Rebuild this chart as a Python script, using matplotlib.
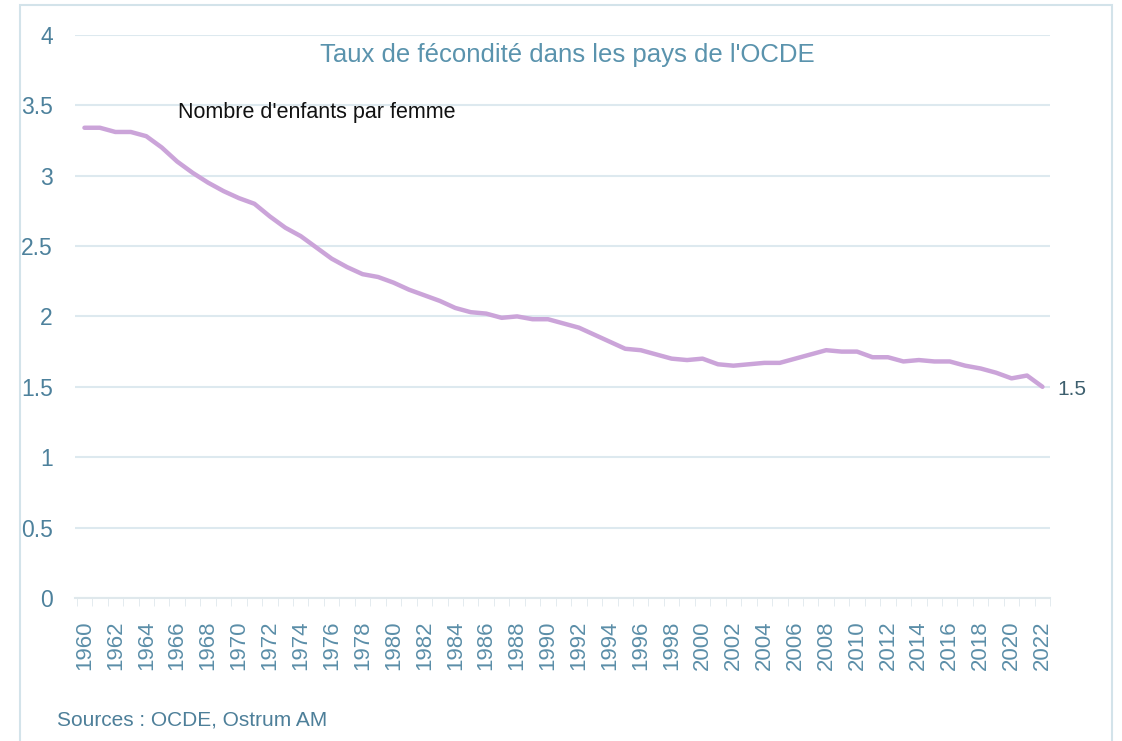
import numpy as np
import matplotlib.pyplot as plt
from matplotlib.patches import Rectangle

# fertility rate, OECD countries
years = list(range(1960, 2023))
taux = [3.34, 3.34, 3.31, 3.31, 3.28, 3.20, 3.10, 3.02, 2.95, 2.89,
        2.84, 2.80, 2.71, 2.63, 2.57, 2.49, 2.41, 2.35, 2.30, 2.28,
        2.24, 2.19, 2.15, 2.11, 2.06, 2.03, 2.02, 1.99, 2.00, 1.98,
        1.98, 1.95, 1.92, 1.87, 1.82, 1.77, 1.76, 1.73, 1.70, 1.69,
        1.70, 1.66, 1.65, 1.66, 1.67, 1.67, 1.70, 1.73, 1.76, 1.75,
        1.75, 1.71, 1.71, 1.68, 1.69, 1.68, 1.68, 1.65, 1.63, 1.60,
        1.56, 1.58, 1.50]
yticks = [0, 0.5, 1, 1.5, 2, 2.5, 3, 3.5, 4]
ylabels = ["0", "0.5", "1", "1.5", "2", "2.5", "3", "3.5", "4"]

narrow = ['Liberation Sans', 'DejaVu Sans']
blue = '#4d819c'

fig = plt.figure(figsize=(11.22, 7.41), dpi=100)
ax = fig.add_axes([0.067, 0.193, 0.869, 0.760])

ax.plot(years, taux, color='#cba4d9', lw=3.2, solid_capstyle='round')
ax.set_xlim(1959.4, 2022.5)
ax.set_ylim(0, 4)

ax.set_yticks(yticks)
ax.set_yticklabels(ylabels, family=narrow, fontsize=16.5, color=blue)
ax.yaxis.grid(True, color='#dde9ef', lw=1.5)
ax.tick_params(axis='y', length=0, pad=16)

ax.set_xticks(years[::2])
ax.set_xticklabels([str(y) for y in years[::2]], rotation=90,
                   family=narrow, fontsize=16, color='#5b8ea8')
ax.set_xticks(np.arange(1959.5, 2023, 1), minor=True)
ax.tick_params(axis='x', which='major', length=0, pad=16)
ax.tick_params(axis='x', which='minor', length=6, color='#dfe8ec')

for s in ['top', 'right', 'left']:
    ax.spines[s].set_visible(False)
ax.spines['bottom'].set_color('#dfe8ec')
ax.spines['bottom'].set_linewidth(1.5)
ax.set_axisbelow(True)

ax.text(0.505, 0.965, "Taux de fécondité dans les pays de l'OCDE",
        transform=ax.transAxes, ha='center', va='center',
        family=narrow, fontsize=18.5, color='#5a93ad')
ax.text(0.105, 0.862, "Nombre d'enfants par femme", transform=ax.transAxes,
        ha='left', va='center', family=narrow, fontsize=15.5, color='#111111')
ax.annotate("1.5", xy=(years[-1], taux[-1]), xytext=(11, -2),
            textcoords='offset points', va='center', family=narrow,
            fontsize=15, color='#3d5f6e')

fig.text(0.051, 0.028, "Sources : OCDE, Ostrum AM", family=narrow,
         fontsize=15, color='#4d7f99', ha='left', va='center')

fig.patches.append(Rectangle((0.018, -0.01), 0.973, 1.003, transform=fig.transFigure,
                             fill=False, edgecolor='#d3e3ea', lw=1.5))

fig.savefig('out.png', dpi=100)
